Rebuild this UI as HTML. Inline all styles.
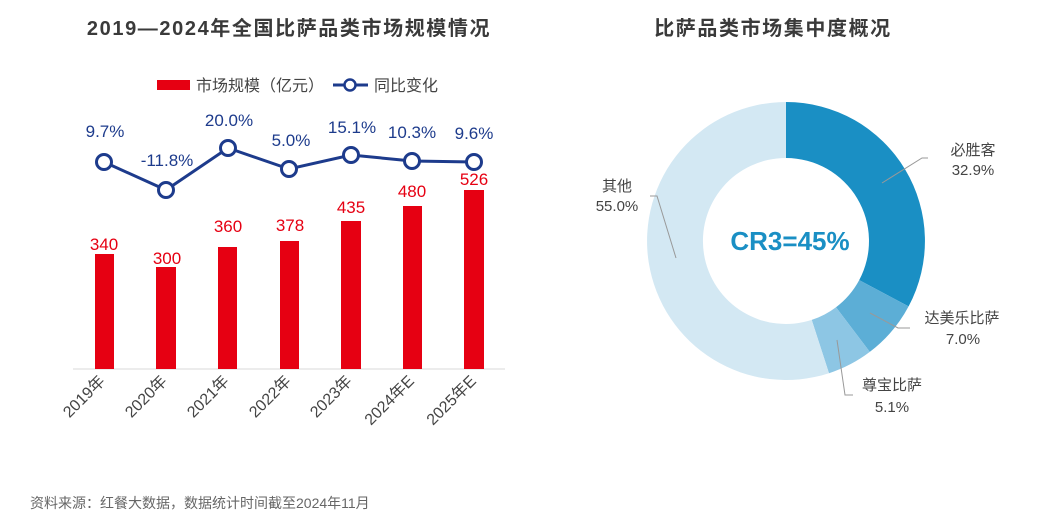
<!DOCTYPE html>
<html><head><meta charset="utf-8"><style>
body{margin:0;background:#fff;width:1062px;height:523px;overflow:hidden;font-family:"Liberation Sans","Noto Sans CJK SC",sans-serif}
</style></head><body>
<svg width="1062" height="523" xmlns="http://www.w3.org/2000/svg" font-family="Liberation Sans, Noto Sans CJK SC, sans-serif">
<text x="289" y="35" text-anchor="middle" font-size="20" font-weight="bold" letter-spacing="1.6" fill="#3a3a3a">2019—2024年全国比萨品类市场规模情况</text>
<text x="773" y="35" text-anchor="middle" font-size="20" font-weight="bold" letter-spacing="1.6" fill="#3a3a3a">比萨品类市场集中度概况</text>
<rect x="157" y="80" width="33" height="10" fill="#e60012"/>
<text x="196" y="91" font-size="16" fill="#444">市场规模（亿元）</text>
<line x1="333" y1="85" x2="368" y2="85" stroke="#1d3b8c" stroke-width="3"/>
<circle cx="350" cy="85" r="5.5" fill="#fff" stroke="#1d3b8c" stroke-width="2.5"/>
<text x="374" y="91" font-size="16" fill="#444">同比变化</text>
<line x1="73" y1="369" x2="505" y2="369" stroke="#d9d9d9" stroke-width="1"/>
<g fill="#e60012">
<rect x="95" y="254" width="19" height="115"/>
<rect x="156" y="267" width="20" height="102"/>
<rect x="218" y="247" width="19" height="122"/>
<rect x="280" y="241" width="19" height="128"/>
<rect x="341" y="221" width="20" height="148"/>
<rect x="403" y="206" width="19" height="163"/>
<rect x="464" y="190" width="20" height="179"/>
</g>
<g font-size="17" fill="#e60012" text-anchor="middle">
<text x="104" y="250">340</text><text x="167" y="264">300</text><text x="228" y="232">360</text><text x="290" y="231">378</text><text x="351" y="213">435</text><text x="412" y="197">480</text><text x="474" y="185">526</text>
</g>
<polyline points="104,162 166,190 228,148 289,169 351,155 412,161 474,162" fill="none" stroke="#1d3b8c" stroke-width="3"/>
<g fill="#fff" stroke="#1d3b8c" stroke-width="3">
<circle cx="104" cy="162" r="7.5"/><circle cx="166" cy="190" r="7.5"/><circle cx="228" cy="148" r="7.5"/><circle cx="289" cy="169" r="7.5"/><circle cx="351" cy="155" r="7.5"/><circle cx="412" cy="161" r="7.5"/><circle cx="474" cy="162" r="7.5"/>
</g>
<g font-size="17" fill="#1d3b8c" text-anchor="middle">
<text x="105" y="137">9.7%</text><text x="167" y="166">-11.8%</text><text x="229" y="126">20.0%</text><text x="291" y="146">5.0%</text><text x="352" y="133">15.1%</text><text x="412" y="138">10.3%</text><text x="474" y="139">9.6%</text>
</g>
<g font-size="16" fill="#444" text-anchor="end">
<text transform="translate(106,382) rotate(-45)">2019年</text>
<text transform="translate(168,382) rotate(-45)">2020年</text>
<text transform="translate(230,382) rotate(-45)">2021年</text>
<text transform="translate(292,382) rotate(-45)">2022年</text>
<text transform="translate(353,382) rotate(-45)">2023年</text>
<text transform="translate(415,382) rotate(-45)">2024年E</text>
<text transform="translate(477,382) rotate(-45)">2025年E</text>
</g>
<g transform="translate(786,241)">
<path d="M0,-139 A139,139 0 0 1 122.6,65.4 L73.2,39.1 A83,83 0 0 0 0,-83Z" fill="#1a8fc4"/>
<path d="M122.6,65.4 A139,139 0 0 1 83.8,110.9 L50,66.2 A83,83 0 0 0 73.2,39.1Z" fill="#5caed6"/>
<path d="M83.8,110.9 A139,139 0 0 1 43,132.2 L25.7,78.9 A83,83 0 0 0 50,66.2Z" fill="#8dc6e4"/>
<path d="M43,132.2 A139,139 0 1 1 0,-139 L0,-83 A83,83 0 1 0 25.7,78.9Z" fill="#d3e8f3"/>
</g>
<text x="790" y="250" text-anchor="middle" font-size="26" font-weight="bold" fill="#1a8fc4">CR3=45%</text>
<g stroke="#999" stroke-width="1" fill="none">
<polyline points="882,183 922,158 928,158"/>
<polyline points="870,313 898,328 910,328"/>
<polyline points="837,340 845,395 853,395"/>
<polyline points="676,258 657,196 650,196"/>
</g>
<g font-size="15" fill="#444" text-anchor="middle">
<text x="973" y="155">必胜客</text><text x="973" y="175">32.9%</text>
<text x="962" y="323">达美乐比萨</text><text x="963" y="344">7.0%</text>
<text x="892" y="390">尊宝比萨</text><text x="892" y="412">5.1%</text>
<text x="617" y="191">其他</text><text x="617" y="211">55.0%</text>
</g>
<text x="30" y="508" font-size="14" fill="#666">资料来源：红餐大数据，数据统计时间截至2024年11月</text>
</svg>
</body></html>
